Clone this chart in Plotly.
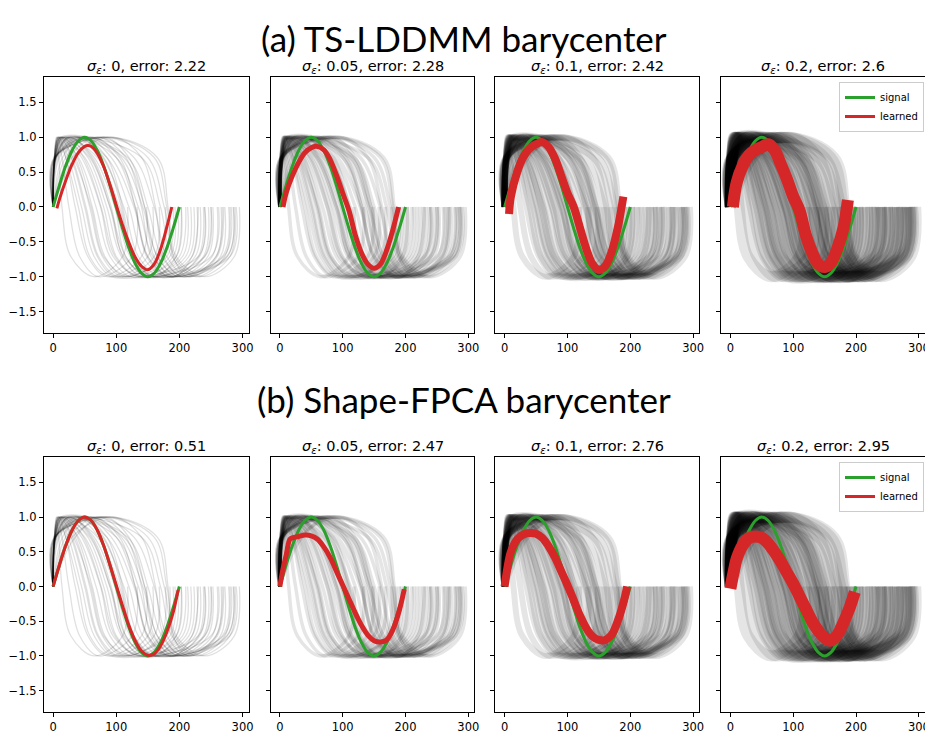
import plotly.graph_objects as go

# ---------------- data ----------------
row_titles = ["(a) TS-LDDMM barycenter", "(b) Shape-FPCA barycenter"]
sigmas = ["0", "0.05", "0.1", "0.2"]
errors_a = ["2.22", "2.28", "2.42", "2.6"]
errors_b = ["0.51", "2.47", "2.76", "2.95"]

# signal (sampled every 10 time steps)
signal_t = [0, 10, 20, 30, 40, 50, 60, 70, 80, 90, 100, 110, 120, 130, 140, 150, 160, 170, 180, 190, 200]
signal_y = [0, .31, .59, .81, .95, 1, .95, .81, .59, .31, 0, -.31, -.59, -.81, -.95, -1, -.95, -.81, -.59, -.31, 0]

# learned barycenters
a1_t = [6, 10, 20, 30, 40, 50, 55, 60, 70, 80, 90, 100, 110, 120, 130, 140, 150, 160, 170, 180, 188]
a1_y = [-0.02, 0.11, 0.38, 0.61, 0.78, 0.87, 0.88, 0.87, 0.77, 0.58, 0.32, 0.03, -0.26, -0.51, -0.72, -0.85, -0.9, -0.82, -0.61, -0.29, 0.0]
a2_t = [5, 10, 20, 30, 40, 50, 58, 70, 80, 90, 100, 110, 120, 130, 140, 150, 160, 170, 180, 189]
a2_y = [0.0, 0.2, 0.45, 0.64, 0.78, 0.85, 0.87, 0.82, 0.68, 0.46, 0.2, -0.05, -0.4, -0.66, -0.82, -0.88, -0.82, -0.62, -0.32, 0.0]
a3_t = [7, 10, 20, 30, 40, 50, 60, 70, 80, 90, 100, 110, 120, 130, 140, 150, 160, 170, 180, 189]
a3_y = [-0.1, 0.15, 0.5, 0.72, 0.84, 0.9, 0.93, 0.86, 0.7, 0.45, 0.2, 0.0, -0.3, -0.6, -0.82, -0.9, -0.85, -0.65, -0.3, 0.15]
a4_t = [4, 10, 20, 30, 40, 50, 60, 70, 80, 90, 100, 110, 120, 130, 140, 150, 160, 170, 180, 187]
a4_y = [0.0, 0.35, 0.6, 0.75, 0.82, 0.86, 0.9, 0.82, 0.62, 0.4, 0.15, -0.05, -0.4, -0.65, -0.82, -0.86, -0.8, -0.6, -0.3, 0.1]
b1_t = [0, 10, 20, 30, 40, 50, 60, 70, 80, 90, 100, 110, 120, 130, 140, 150, 160, 170, 180, 190, 198]
b1_y = [0, .31, .59, .81, .95, 1, .95, .81, .59, .31, 0.02, -0.28, -0.56, -0.78, -0.93, -0.99, -0.97, -0.86, -0.66, -0.38, -0.05]
b2_t = [0, 5, 10, 16, 20, 30, 40, 50, 60, 70, 80, 90, 100, 110, 120, 130, 140, 150, 160, 170, 180, 190, 198]
b2_y = [0, 0.25, 0.45, 0.68, 0.7, 0.72, 0.74, 0.73, 0.68, 0.57, 0.42, 0.22, 0.02, -0.18, -0.38, -0.56, -0.7, -0.78, -0.8, -0.77, -0.62, -0.35, -0.04]
b3_t = [0, 5, 10, 20, 30, 40, 50, 60, 70, 80, 90, 100, 110, 120, 130, 140, 150, 160, 170, 180, 190, 195]
b3_y = [0, 0.3, 0.5, 0.68, 0.75, 0.77, 0.76, 0.7, 0.58, 0.42, 0.22, 0.02, -0.2, -0.42, -0.6, -0.72, -0.77, -0.77, -0.7, -0.5, -0.2, 0.0]
b4_t = [0, 5, 10, 20, 30, 40, 50, 60, 70, 80, 90, 100, 110, 120, 130, 140, 150, 160, 170, 180, 190, 198]
b4_y = [-0.03, 0.2, 0.4, 0.6, 0.7, 0.72, 0.7, 0.62, 0.5, 0.36, 0.2, 0.04, -0.14, -0.32, -0.5, -0.64, -0.74, -0.78, -0.7, -0.52, -0.3, -0.08]

learned = {
    (0, 0): (a1_t, a1_y), (0, 1): (a2_t, a2_y), (0, 2): (a3_t, a3_y), (0, 3): (a4_t, a4_y),
    (1, 0): (b1_t, b1_y), (1, 1): (b2_t, b2_y), (1, 2): (b3_t, b3_y), (1, 3): (b4_t, b4_y),
}

# deformed samples: value levels at phase anchors and, for each sample,
# the time at which each anchor is reached
anchor_levels = [0.0, 0.71, 1.0, 0.71, 0.0, -0.71, -1.0, -0.71, 0.0]
sample_times = [
    [2, 5, 9, 14, 28, 65, 110, 118],
    [2, 7, 14, 25, 42, 72, 125, 133],
    [3, 9, 20, 35, 55, 85, 140, 148],
    [2, 8, 24, 45, 65, 95, 150, 158],
    [3, 12, 30, 52, 72, 105, 160, 168],
    [4, 15, 38, 62, 82, 115, 170, 178],
    [2, 10, 40, 68, 90, 125, 185, 193],
    [3, 18, 48, 76, 98, 135, 195, 203],
    [4, 20, 55, 85, 108, 145, 205, 213],
    [3, 14, 58, 90, 115, 150, 210, 218],
    [5, 25, 65, 98, 122, 160, 215, 223],
    [3, 16, 70, 105, 128, 165, 220, 228],
    [4, 40, 78, 112, 135, 172, 225, 233],
    [6, 30, 85, 120, 142, 180, 232, 240],
    [3, 50, 92, 128, 150, 188, 238, 246],
    [5, 28, 100, 135, 158, 195, 245, 253],
    [3, 60, 108, 142, 165, 200, 252, 260],
    [4, 25, 118, 150, 172, 208, 258, 266],
    [3, 70, 128, 160, 180, 215, 265, 272],
    [3, 12, 140, 170, 188, 225, 272, 280],
    [4, 80, 150, 176, 192, 230, 280, 288],
    [2, 85, 160, 180, 195, 240, 287, 295],
    [2, 9, 32, 60, 80, 120, 250, 262],
    [3, 14, 45, 75, 95, 140, 270, 282],
    [5, 24, 60, 90, 112, 160, 280, 290],
    [2, 6, 20, 40, 58, 90, 230, 240],
    [3, 11, 50, 80, 100, 135, 240, 250],
    [15, 45, 85, 110, 128, 160, 195, 203],
    [25, 70, 115, 140, 155, 185, 240, 250],
    [30, 95, 140, 162, 175, 205, 258, 268],
    [20, 60, 105, 130, 148, 180, 268, 278],
    [10, 40, 80, 108, 125, 160, 275, 285],
    [8, 35, 72, 98, 115, 150, 200, 210],
    [35, 80, 120, 145, 160, 190, 220, 230],
    [3, 12, 35, 58, 78, 110, 175, 185],
    [2, 8, 28, 50, 70, 100, 180, 190],
    [4, 55, 100, 130, 150, 185, 230, 238],
    [2, 90, 165, 182, 190, 215, 260, 270],
    [4, 26, 62, 92, 110, 140, 190, 198],
    [3, 18, 112, 145, 165, 200, 276, 286],
]

x_ticks = [0, 100, 200, 300]
y_ticks = [-1.5, -1.0, -0.5, 0.0, 0.5, 1.0, 1.5]
y_ticklabels = ["\u22121.5", "\u22121.0", "\u22120.5", "0.0", "0.5", "1.0", "1.5"]

# ---------------- styling ----------------
OFF = 8                       # page body margin of the html page
W, H = 933 - OFF, 734 - OFF


def px(x):
    return (x - OFF) / W


def py(y):
    return 1 - (y - OFF) / H


x_dom = [(44, 250), (272, 477), (498, 703), (725, 930)]
y_dom = [(77, 333), (457, 712)]
gray_width = [1.3, 3.5, 6, 11]
gray_alpha = [0.12, 0.1, 0.1, 0.1]
red_width = [3, 5, 8, 12]
GREEN = "#2ca02c"
RED = "#d62728"
FONT = "DejaVu Sans"
TICKFONT = dict(family=FONT, size=11.5, color="black")

fig = go.Figure()
layout = dict(width=W, height=H, margin=dict(l=0, r=0, t=0, b=0),
              plot_bgcolor="white", paper_bgcolor="white", showlegend=True)
annotations = []

for r in range(2):
    for c in range(4):
        k = r * 4 + c + 1
        xa = "x" if k == 1 else f"x{k}"
        ya = "y" if k == 1 else f"y{k}"
        x0, x1 = x_dom[c]
        t0, t1 = y_dom[r]
        layout["xaxis" if k == 1 else f"xaxis{k}"] = dict(
            domain=[px(x0), px(x1)], range=[-14.75, 309.75], anchor=ya,
            tickvals=x_ticks, ticks="outside", ticklen=4, tickcolor="black",
            showline=True, mirror=True, linecolor="black", linewidth=1,
            showgrid=False, zeroline=False, tickfont=TICKFONT)
        layout["yaxis" if k == 1 else f"yaxis{k}"] = dict(
            domain=[py(t1), py(t0)], range=[-1.807, 1.864], anchor=xa,
            tickvals=y_ticks, ticktext=y_ticklabels, showticklabels=(c == 0),
            ticks="outside", ticklen=4, tickcolor="black",
            showline=True, mirror=True, linecolor="black", linewidth=1,
            showgrid=False, zeroline=False, tickfont=TICKFONT)

        for times in sample_times:
            fig.add_trace(go.Scatter(
                x=[0] + times, y=anchor_levels, xaxis=xa, yaxis=ya, mode="lines",
                line=dict(color=f"rgba(0,0,0,{gray_alpha[c]})", width=gray_width[c], shape="spline"),
                showlegend=False, hoverinfo="skip"))

        fig.add_trace(go.Scatter(
            x=signal_t, y=signal_y, xaxis=xa, yaxis=ya, mode="lines",
            line=dict(color=GREEN, width=3, shape="spline"), name="signal",
            showlegend=False, hoverinfo="skip"))
        lt, ly = learned[(r, c)]
        fig.add_trace(go.Scatter(
            x=lt, y=ly, xaxis=xa, yaxis=ya, mode="lines",
            line=dict(color=RED, width=red_width[c], shape="spline"), name="learned",
            showlegend=False, hoverinfo="skip"))

        errs = errors_a if r == 0 else errors_b
        annotations.append(dict(
            text=f"<i>σ</i><sub><i>ε</i></sub>: {sigmas[c]}, error: {errs[c]}",
            x=px((x0 + x1) / 2), y=py(t0 - 10), xref="paper", yref="paper",
            xanchor="center", yanchor="middle", showarrow=False,
            font=dict(family=FONT, size=14.5, color="black")))

    # legend entries for the last panel of each row
    leg = "legend" if r == 0 else "legend2"
    k = r * 4 + 4
    for name, col in (("signal", GREEN), ("learned", RED)):
        fig.add_trace(go.Scatter(
            x=[None], y=[None], xaxis=f"x{k}", yaxis=f"y{k}", mode="lines",
            line=dict(color=col, width=3), name=name, legend=leg, hoverinfo="skip"))

for title, yc in zip(row_titles, [38, 399]):
    annotations.append(dict(
        text=title, x=px(466.5), y=py(yc), xref="paper", yref="paper",
        xanchor="center", yanchor="middle", showarrow=False,
        font=dict(family="Lato", size=35, color="black")))

leg_style = dict(xanchor="right", yanchor="top", bgcolor="rgba(255,255,255,0.85)",
                 bordercolor="#cccccc", borderwidth=1, tracegroupgap=0,
                 font=dict(family=FONT, size=10, color="black"), itemwidth=30)
layout["legend"] = dict(x=px(929), y=py(82), **leg_style)
layout["legend2"] = dict(x=px(929), y=py(462), **leg_style)
layout["annotations"] = annotations
fig.update_layout(**layout)

fig.write_html("out.html")
